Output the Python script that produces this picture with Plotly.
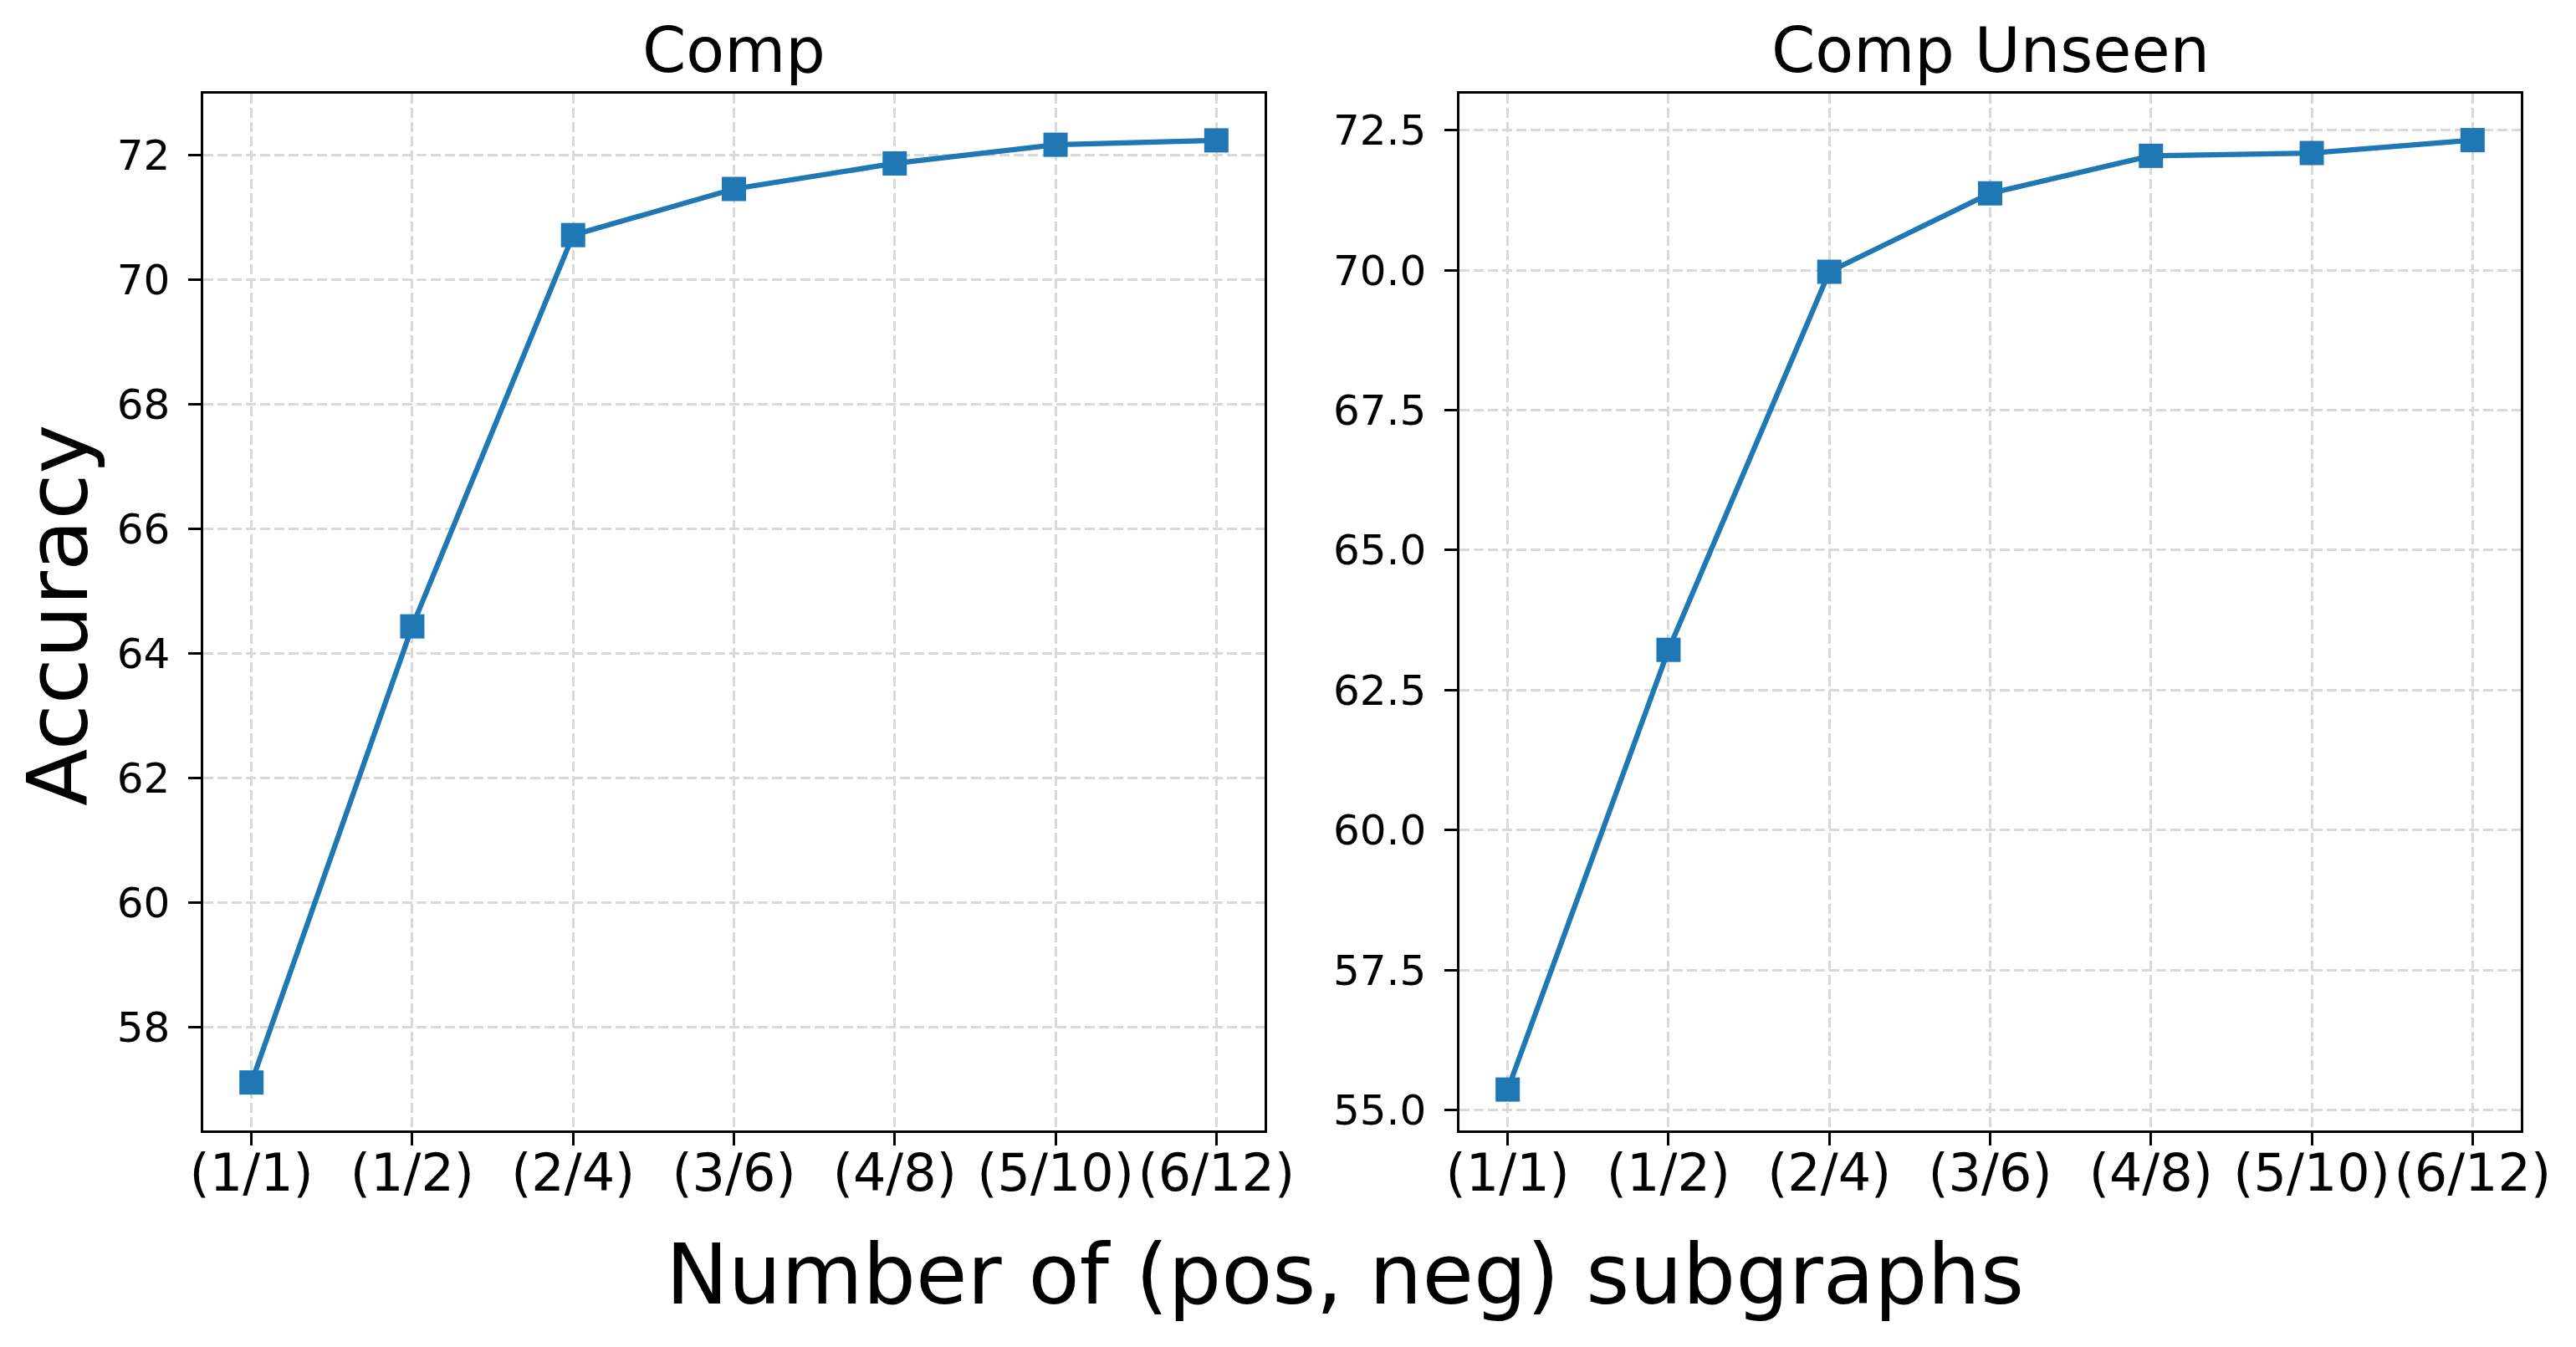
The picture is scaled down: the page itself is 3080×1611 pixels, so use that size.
import plotly.graph_objects as go

categories = ["(1/1)", "(1/2)", "(2/4)", "(3/6)", "(4/8)", "(5/10)", "(6/12)"]
comp = [57.11, 64.43, 70.71, 71.45, 71.86, 72.16, 72.23]
comp_unseen = [55.37, 63.22, 69.97, 71.37, 72.04, 72.09, 72.32]
titles = ["Comp", "Comp Unseen"]
left_yticks = [58, 60, 62, 64, 66, 68, 70, 72]
right_yticks = [55.0, 57.5, 60.0, 62.5, 65.0, 67.5, 70.0, 72.5]

W, H = 3080, 1611
BLUE = "#1f77b4"
FONT = "DejaVu Sans"
xs = list(range(len(categories)))

fig = go.Figure()
fig.add_trace(go.Scatter(x=xs, y=comp, mode="lines+markers", xaxis="x", yaxis="y",
                         line=dict(color=BLUE, width=6.25),
                         marker=dict(symbol="square", size=29, color=BLUE),
                         showlegend=False))
fig.add_trace(go.Scatter(x=xs, y=comp_unseen, mode="lines+markers", xaxis="x2", yaxis="y2",
                         line=dict(color=BLUE, width=6.25),
                         marker=dict(symbol="square", size=29, color=BLUE),
                         showlegend=False))

def px2x(p):
    return p / W

def px2y(p):
    return (H - p) / H

grid = dict(showgrid=True, gridcolor="#d9d9d9", gridwidth=3.3, griddash="12px,5px")
axis_common = dict(showline=True, linecolor="black", linewidth=3.3, mirror=True,
                   ticks="outside", ticklen=14.6, tickwidth=3.3, tickcolor="black",
                   zeroline=False, automargin=False, **grid)

xcommon = dict(axis_common, tickmode="array", tickvals=xs, ticktext=categories,
               range=[-0.3, 6.3], tickfont=dict(family=FONT, size=62, color="black"),
               ticklabelstandoff=-20)

fig.update_layout(
    width=W, height=H, autosize=False,
    margin=dict(l=0, r=0, t=0, b=0, pad=0),
    paper_bgcolor="white", plot_bgcolor="white",
    font=dict(family=FONT, color="black"),
    xaxis=dict(xcommon, domain=[px2x(243), px2x(1512)], anchor="y"),
    xaxis2=dict(xcommon, domain=[px2x(1745), px2x(3014)], anchor="y2"),
    yaxis=dict(axis_common, domain=[px2y(1352), px2y(112)], anchor="x",
               range=[56.34, 72.98], tickmode="array", tickvals=left_yticks,
               ticktext=[str(v) for v in left_yticks],
               tickfont=dict(family=FONT, size=50, color="black"), ticklabelstandoff=12),
    yaxis2=dict(axis_common, domain=[px2y(1352), px2y(112)], anchor="x2",
                range=[54.64, 73.15], tickmode="array", tickvals=right_yticks,
                ticktext=[f"{v:.1f}" for v in right_yticks],
                tickfont=dict(family=FONT, size=50, color="black"), ticklabelstandoff=12),
)

annotations = [
    dict(text=titles[0], x=px2x(877.5), y=px2y(60), xref="paper", yref="paper",
         xanchor="center", yanchor="middle", showarrow=False,
         font=dict(family=FONT, size=75, color="black")),
    dict(text=titles[1], x=px2x(2379.5), y=px2y(60), xref="paper", yref="paper",
         xanchor="center", yanchor="middle", showarrow=False,
         font=dict(family=FONT, size=75, color="black")),
    dict(text="Accuracy", x=px2x(70), y=px2y(736), xref="paper", yref="paper",
         xanchor="center", yanchor="middle", showarrow=False, textangle=-90,
         font=dict(family=FONT, size=100, color="black")),
    dict(text="Number of (pos, neg) subgraphs", x=px2x(1607.5), y=px2y(1524.5),
         xref="paper", yref="paper", xanchor="center", yanchor="middle", showarrow=False,
         font=dict(family=FONT, size=100, color="black")),
]
fig.update_layout(annotations=annotations)

fig.write_html("out.html", config={"displayModeBar": False},
               post_script="document.body.style.margin='0';document.body.style.overflow='hidden';")
